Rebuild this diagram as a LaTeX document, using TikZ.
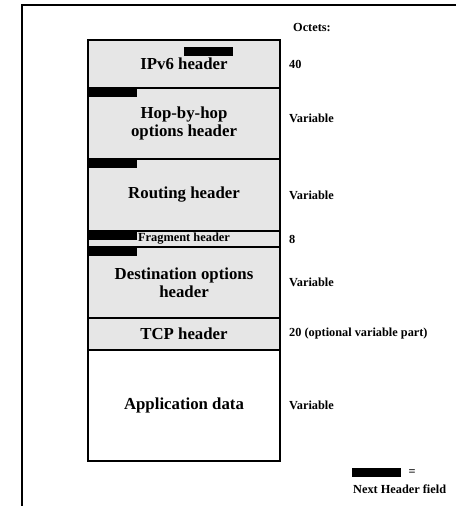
\documentclass[tikz,border=0pt]{standalone}
\usepackage{fontspec}
\setmainfont{Liberation Serif}
\usetikzlibrary{positioning}
\definecolor{boxgray}{RGB}{230,230,230}

\begin{document}
\begin{tikzpicture}[x=1pt, y=-1pt,
  hdr/.style = {draw, line width=1.4pt, fill=boxgray, minimum width=192pt,
    inner sep=0pt, outer sep=0pt, align=center,
    font=\fontsize{16.8}{18.5}\selectfont\bfseries},
  nhfield/.style = {fill=black, inner sep=0pt, outer sep=0pt,
    minimum width=49pt, minimum height=9pt},
  octets/.style = {anchor=west, inner sep=0pt,
    font=\fontsize{12.3}{14}\selectfont\bfseries}]
  \useasboundingbox (0,0) rectangle (456,506);
  % frame
  \draw[line width=2pt] (456,5) -- (22,5) -- (22,506);

  % the header chain
  \node[hdr, minimum height=48pt, anchor=north] (ipv6) at (184,40) {IPv6 header};
  \node[hdr, minimum height=71pt, below=0pt of ipv6] (hop) {Hop-by-hop\\options header};
  \node[hdr, minimum height=72pt, below=0pt of hop] (routing) {Routing header};
  \node[hdr, minimum height=16pt, below=0pt of routing,
    font=\fontsize{12.4}{14}\selectfont\bfseries] (frag) {Fragment header};
  \node[hdr, minimum height=71pt, below=0pt of frag] (dest) {Destination options\\header};
  \node[hdr, minimum height=32pt, below=0pt of dest] (tcp) {TCP header};
  \node[hdr, minimum height=111pt, below=0pt of tcp, fill=white] (app) {Application data};

  % next header fields
  \node[nhfield] (nh1) at (208,51) {};
  \node[nhfield, anchor=north west] (nh2) at (hop.north west) {};
  \node[nhfield, anchor=north west] (nh3) at (routing.north west) {};
  \node[nhfield, anchor=north west] (nh4) at (frag.north west) {};
  \node[nhfield, anchor=north west] (nh5) at (dest.north west) {};

  % sizes
  \node[octets] (octhead) at (293,28) {Octets:};
  \node[octets, right=9pt of ipv6] (o1) {40};
  \node[octets, right=9pt of hop, yshift=5.5pt] (o2) {Variable};
  \node[octets, right=9pt of routing] (o3) {Variable};
  \node[octets, right=9pt of frag] (o4) {8};
  \node[octets, right=9pt of dest] (o5) {Variable};
  \node[octets, right=9pt of tcp] (o6) {20 (optional variable part)};
  \node[octets, right=9pt of app] (o7) {Variable};

  % key
  \node[nhfield] (key) at (376,472.5) {};
  \node[octets, right=8pt of key] (eq) {=};
  \node[octets] (keytext) at (353,489) {Next Header field};
\end{tikzpicture}
\end{document}
